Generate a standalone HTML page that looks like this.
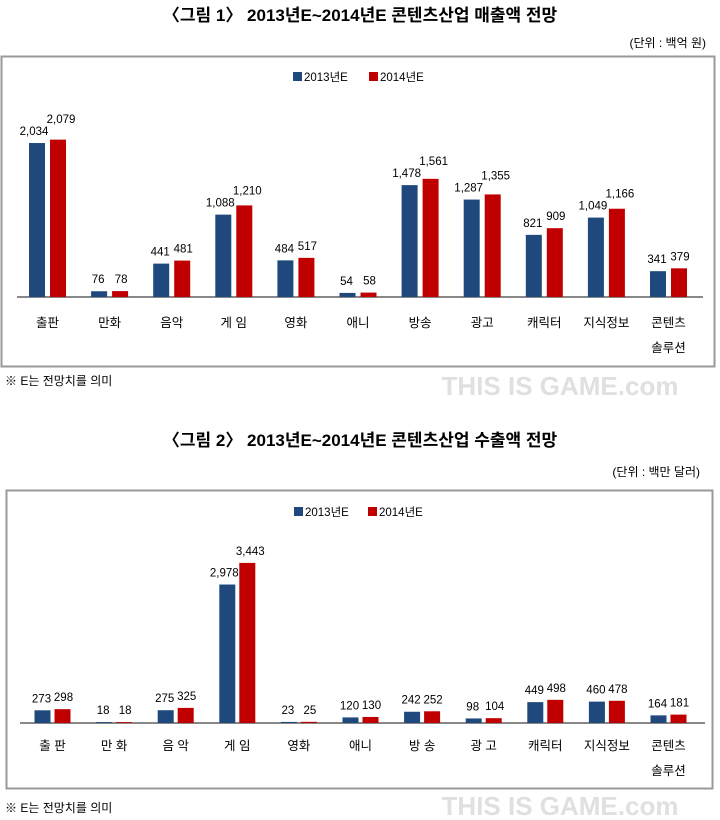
<!DOCTYPE html>
<html><head><meta charset="utf-8"><style>
body{margin:0;background:#fff;width:720px;height:820px;overflow:hidden}
svg{display:block}
text{font-family:"Liberation Sans","Noto Sans CJK KR",sans-serif;fill:#000}
</style></head><body>
<svg width="720" height="820" viewBox="0 0 720 820" xmlns="http://www.w3.org/2000/svg">
<text x="360" y="21" text-anchor="middle" font-size="17" font-weight="bold">〈그림 1〉 2013년E~2014년E 콘텐츠산업 매출액 전망</text>
<text x="706" y="47" text-anchor="end" font-size="12">(단위 : 백억 원)</text>
<rect x="1.5" y="56.5" width="713" height="310" fill="#fff" stroke="#999" stroke-width="2"/>
<rect x="293" y="72" width="9" height="9" fill="#1f497d"/><text x="304" y="81" font-size="11.5">2013년E</text>
<rect x="369" y="72" width="9" height="9" fill="#c00000"/><text x="380" y="81" font-size="11.5">2014년E</text>
<line x1="17" y1="297" x2="703" y2="297" stroke="#888" stroke-width="2"/>
<g id="c1"></g>
<text x="5" y="385" font-size="12">※ E는 전망치를 의미</text>

<text x="360" y="446" text-anchor="middle" font-size="17" font-weight="bold">〈그림 2〉 2013년E~2014년E 콘텐츠산업 수출액 전망</text>
<text x="700" y="476" text-anchor="end" font-size="12">(단위 : 백만 달러)</text>
<rect x="6.5" y="490.5" width="706" height="298" fill="#fff" stroke="#999" stroke-width="2"/>
<rect x="294" y="507" width="9" height="9" fill="#1f497d"/><text x="305" y="516" font-size="11.5">2013년E</text>
<rect x="368" y="507" width="9" height="9" fill="#c00000"/><text x="379" y="516" font-size="11.5">2014년E</text>
<line x1="20" y1="723" x2="705" y2="723" stroke="#888" stroke-width="2"/>
<g id="c2"></g>
<text x="5" y="812" font-size="12">※ E는 전망치를 의미</text>

<text x="560" y="395" text-anchor="middle" font-size="26" font-weight="bold" style="fill:#e0e0e0">THIS IS GAME.com</text>
<text x="560" y="815" text-anchor="middle" font-size="26" font-weight="bold" style="fill:#e0e0e0">THIS IS GAME.com</text>
</svg>
<script>
var NS="http://www.w3.org/2000/svg";
function el(p,t,a,txt){var e=document.createElementNS(NS,t);for(var k in a)e.setAttribute(k,a[k]);if(txt!==undefined)e.textContent=txt;p.appendChild(e);return e;}
var cats=["출판","만화","음악","게 임","영화","애니","방송","광고","캐릭터","지식정보","콘텐츠"];
var cats2=["출 판","만 화","음 악","게 임","영화","애니","방 송","광 고","캐릭터","지식정보","콘텐츠"];
function draw(id,c0,sp,base,scale,a,b,labels,ly,bw,gap,stag){
 var g=document.getElementById(id);
 for(var i=0;i<11;i++){
  var cx=c0+sp*i;
  var h1=a[i]*scale,h2=b[i]*scale;
  el(g,"rect",{x:cx-gap/2-bw,y:base-h1,width:bw,height:h1,fill:"#1f497d"});
  el(g,"rect",{x:cx+gap/2,y:base-h2,width:bw,height:h2,fill:"#c00000"});
  var f=function(v){return v.toLocaleString("en-US");};
  var big=a[i]>=1000;
  var y1=base-h1-8,y2=base-h2-8;
  if(stag&&big){y2=Math.min(y2,y1-12);}
  el(g,"text",{x:cx-gap/2-bw/2-(big?3:1),y:y1,"text-anchor":"middle","font-size":11.5},f(a[i]));
  el(g,"text",{x:cx+gap/2+bw/2+(big?3:1),y:y2,"text-anchor":"middle","font-size":11.5},f(b[i]));
  el(g,"text",{x:cx,y:ly,"text-anchor":"middle","font-size":12.5},labels[i]);
  if(i==10)el(g,"text",{x:cx,y:ly+25,"text-anchor":"middle","font-size":12.5},"솔루션");
 }
}
draw("c1",47.5,62.1,297,0.0757,[2034,76,441,1088,484,54,1478,1287,821,1049,341],[2079,78,481,1210,517,58,1561,1355,909,1166,379],cats,327,16,5,true);
draw("c2",52.5,61.6,723,0.0465,[273,18,275,2978,23,120,242,98,449,460,164],[298,18,325,3443,25,130,252,104,498,478,181],cats2,750,16,4,false);
</script>
</body></html>
